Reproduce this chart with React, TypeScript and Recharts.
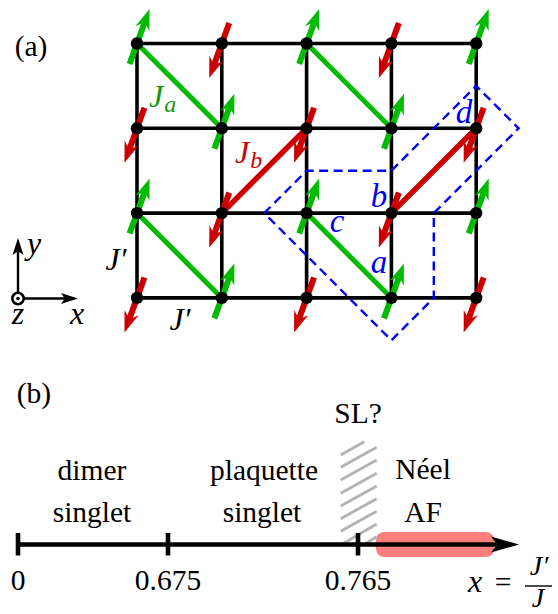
import React from "react";
import { ScatterChart, Scatter, XAxis, YAxis, ReferenceArea } from "recharts";

const WIDTH = 558;
const HEIGHT = 614;

// lattice, in lattice units (column, row)
const columns = [0, 1, 2, 3, 4];
const rows = [0, 1, 2, 3];
const spinRows = ["+-+-+", "-+-+-", "+-+-+", "-+-+-"];
const greenBonds = [
  [0, 0, 1, 1],
  [2, 0, 3, 1],
  [0, 2, 1, 3],
  [2, 2, 3, 3],
];
const redBonds = [
  [1, 2, 2, 1],
  [3, 2, 4, 1],
];
const unitCell = [
  [1.5, 2],
  [2, 1.5],
  [3, 1.5],
  [4, 0.5],
  [4.5, 1],
  [3.5, 2],
  [3.5, 3],
  [3, 3.5],
  [1.5, 2],
];

// lattice axes: column 0 sits at 137, row 0 at 43.5, one cell is 84.8 wide
const latticeDomainX = [-137 / 84.8, (WIDTH - 137) / 84.8];
const latticeDomainY = [-43.5 / 84.8, (HEIGHT - 43.5) / 84.8];

// phase diagram and annotations, in picture units
const phaseAxis = [
  [18, 544.5],
  [496, 544.5],
];
const phaseTicks = [18, 168, 358];
const phaseTickLabels = ["0", "0.675", "0.765"];
const hatchLines = [
  [340.7, 455, 364.3, 441.7],
  [340.7, 467.3, 376.7, 447.3],
  [340.7, 480, 376.7, 460],
  [340.7, 493.3, 376.7, 473.3],
  [340.7, 506, 376.7, 486],
  [340.7, 518.7, 376.7, 498.7],
  [340.7, 531.3, 376.7, 511.3],
  [340.7, 545, 376.7, 524],
  [363.3, 545, 376.7, 536.7],
];
const plainLabels: [string, number, number][] = [
  ["dimer", 92, 480],
  ["singlet", 92, 522],
  ["plaquette", 264, 480],
  ["singlet", 262, 522],
  ["SL?", 358, 423],
  ["Néel", 423, 479],
  ["AF", 423, 522],
  ["(a)", 31, 56],
  ["(b)", 34, 403],
  ["=", 503, 592],
];
const blueLabels: [string, number, number][] = [
  ["d", 464, 123],
  ["b", 379, 207],
  ["c", 337, 232],
  ["a", 379, 273],
];
const blackMathLabels: [string, number, number][] = [
  ["J′", 116, 270],
  ["J′", 180, 330],
  ["y", 34, 254],
  ["x", 77, 324],
  ["z", 18, 324],
  ["x", 475, 592],
];
const fractionLabels: [string, number, number][] = [
  ["J′", 539, 575],
  ["J", 538, 606.5],
];

const GREEN = "#00bb00";
const RED = "#cc0000";
const BLUE = "#0000ff";
const SERIF = "'Liberation Serif', serif";

const nothing = () => <g />;

// arrow polygon along (ux, uy), starting at back and ending at front, both measured from the point
const arrowPoints = (
  cx: number,
  cy: number,
  ux: number,
  uy: number,
  back: number,
  front: number,
  shaft: number,
  head: number,
  half: number,
) => {
  const at = (along: number, side: number) =>
    `${cx + ux * along - uy * side},${cy + uy * along + ux * side}`;
  return [
    at(-back, -shaft),
    at(front - head * 0.8, -shaft),
    at(front - head, -half),
    at(front, 0),
    at(front - head, half),
    at(front - head * 0.8, shaft),
    at(-back, shaft),
  ].join(" ");
};

const spinShape = (color: string, ux: number, uy: number) => (p: any) => (
  <polygon
    points={arrowPoints(p.cx, p.cy, ux, uy, 21.8, 36.7, 3, 21, 7.5)}
    fill={color}
  />
);

const headShape = (ux: number, uy: number, length: number, half: number) => (
  p: any,
) => (
  <polygon
    points={arrowPoints(p.cx, p.cy, ux, uy, 0, length, 0.5, length, half)}
    fill="#000"
  />
);

const spinSites = (mark: string) =>
  rows.flatMap((r) =>
    columns
      .filter((c) => spinRows[r][c] === mark)
      .map((c) => ({ x: c, y: r })),
  );
const sites = rows.flatMap((r) => columns.map((c) => ({ x: c, y: r })));

const polyline = (
  key: string,
  points: number[][],
  stroke: string,
  strokeWidth: number,
  lattice: boolean,
  extra: object = {},
) => (
  <Scatter
    key={key}
    xAxisId={lattice ? "lat" : "pic"}
    yAxisId={lattice ? "lat" : "pic"}
    data={points.map(([x, y]) => ({ x, y }))}
    line={{ stroke, strokeWidth, ...extra }}
    lineType="joint"
    shape={nothing}
    isAnimationActive={false}
  />
);

const textAt = (
  key: string,
  x: number,
  y: number,
  shape: (p: any) => React.ReactElement,
) => (
  <Scatter
    key={key}
    xAxisId="pic"
    yAxisId="pic"
    data={[{ x, y }]}
    shape={shape}
    isAnimationActive={false}
  />
);

const plainText = (
  text: string,
  color: string,
  italic: boolean,
  size: number,
) => (p: any) => (
  <text
    x={p.cx}
    y={p.cy}
    textAnchor="middle"
    fontFamily={SERIF}
    fontSize={size}
    fontStyle={italic ? "italic" : "normal"}
    fill={color}
  >
    {text}
  </text>
);

const subscriptText = (sub: string, color: string) => (p: any) => (
  <text
    x={p.cx}
    y={p.cy}
    fontFamily={SERIF}
    fontSize={32}
    fontStyle="italic"
    fill={color}
  >
    J
    <tspan fontSize={24} dx={1} dy={5}>
      {sub}
    </tspan>
  </text>
);

const App = () => (
  <div style={{ position: "absolute", left: 0, top: 0 }}>
    <ScatterChart
      width={WIDTH}
      height={HEIGHT}
      margin={{ top: 0, right: 0, bottom: 0, left: 0 }}
    >
      <XAxis xAxisId="lat" type="number" dataKey="x" domain={latticeDomainX} hide />
      <YAxis yAxisId="lat" type="number" dataKey="y" domain={latticeDomainY} reversed hide />
      <XAxis xAxisId="pic" type="number" dataKey="x" domain={[0, WIDTH]} hide />
      <YAxis yAxisId="pic" type="number" dataKey="y" domain={[0, HEIGHT]} reversed hide />

      {/* panel (a) */}
      {rows.map((r) =>
        polyline(`row${r}`, [[0, r], [4, r]], "#000", 3.6, true),
      )}
      {columns.map((c) =>
        polyline(`col${c}`, [[c, 0], [c, 3]], "#000", 3.6, true),
      )}
      {greenBonds.map(([a, b, c, d], i) =>
        polyline(`g${i}`, [[a, b], [c, d]], GREEN, 5, true),
      )}
      {redBonds.map(([a, b, c, d], i) =>
        polyline(`r${i}`, [[a, b], [c, d]], RED, 5.5, true),
      )}
      <Scatter
        xAxisId="lat"
        yAxisId="lat"
        data={spinSites("+")}
        shape={spinShape(GREEN, 0.342, -0.94)}
        isAnimationActive={false}
      />
      <Scatter
        xAxisId="lat"
        yAxisId="lat"
        data={spinSites("-")}
        shape={spinShape(RED, -0.342, 0.94)}
        isAnimationActive={false}
      />
      <Scatter
        xAxisId="lat"
        yAxisId="lat"
        data={sites}
        shape={(p: any) => <circle cx={p.cx} cy={p.cy} r={6.2} fill="#000" />}
        isAnimationActive={false}
      />
      {polyline("cell", unitCell, BLUE, 2.4, true, { strokeDasharray: "9 5.5" })}

      {/* coordinate axes */}
      {polyline("ax", [[18, 298.5], [66, 298.5]], "#000", 2.4, false)}
      {polyline("ay", [[18, 298.5], [18, 250]], "#000", 2.4, false)}
      {textAt("axh", 61, 298.5, headShape(1, 0, 17, 5.5))}
      {textAt("ayh", 18, 255, headShape(0, -1, 17, 5.5))}
      {textAt("az", 18, 298.5, (p: any) => (
        <g>
          <circle cx={p.cx} cy={p.cy} r={5.7} fill="#fff" stroke="#000" strokeWidth={2.6} />
          <circle cx={p.cx} cy={p.cy} r={1.8} fill="#000" />
        </g>
      ))}

      {/* panel (b) */}
      {hatchLines.map(([a, b, c, d], i) =>
        polyline(`h${i}`, [[a, b], [c, d]], "#b3b3b3", 2.8, false),
      )}
      {polyline("phase", phaseAxis, "#000", 4.4, false)}
      {phaseTicks.map((x) =>
        polyline(`t${x}`, [[x, 533], [x, 555.5]], "#000", 4.6, false),
      )}
      <ReferenceArea
        xAxisId="pic"
        yAxisId="pic"
        x1={376}
        x2={494}
        y1={532}
        y2={557}
        radius={8}
        fill="#ff0000"
        fillOpacity={0.5}
        stroke="none"
      />
      {textAt("phead", 491, 544.5, headShape(1, 0, 28, 8))}

      {phaseTicks.map((x, i) =>
        textAt(`tl${x}`, x, 590, plainText(phaseTickLabels[i], "#000", false, 29.5)),
      )}
      {plainLabels.map(([t, x, y], i) =>
        textAt(`pl${i}`, x, y, plainText(t, "#000", false, 29.5)),
      )}
      {blueLabels.map(([t, x, y]) =>
        textAt(`bl${t}`, x, y, plainText(t, BLUE, true, 33)),
      )}
      {blackMathLabels.map(([t, x, y], i) =>
        textAt(`ml${i}`, x, y, plainText(t, "#000", true, 32)),
      )}
      {fractionLabels.map(([t, x, y], i) =>
        textAt(`fl${i}`, x, y, plainText(t, "#000", true, 28)),
      )}
      {textAt("ja", 149, 107, subscriptText("a", "#119a11"))}
      {textAt("jb", 235, 163, subscriptText("b", RED))}
      {polyline("frac", [[525, 586], [552, 586]], "#000", 1.4, false)}
    </ScatterChart>
  </div>
);

export default App;
